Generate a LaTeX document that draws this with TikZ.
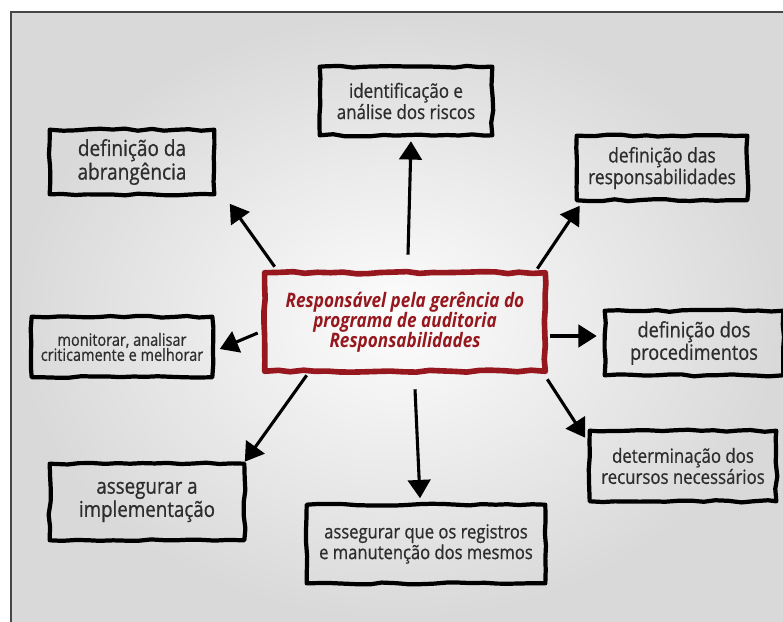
\documentclass[tikz,border=0pt]{standalone}
\usepackage{fontspec}
\setmainfont{Open Sans}[FakeStretch=0.86]
\newfontfamily\topicfont{Open Sans}[FakeStretch=0.86,FakeBold=0.7]
\usetikzlibrary{arrows.meta,calc,decorations.pathmorphing}
\definecolor{boxtext}{RGB}{45,45,45}
\definecolor{mainred}{RGB}{150,24,30}
\definecolor{framegray}{RGB}{70,70,70}
\tikzset{topic/.style={align=center,text=boxtext,inner sep=0pt},
 rough/.style={line width=3pt,line join=round,decorate,decoration={random steps,segment length=9pt,amplitude=.8pt}},
 link/.style={-{Triangle[length=13pt,width=16pt]},line width=2.2pt},
 every node/.style={font=\small}}
\begin{document}
\begin{tikzpicture}[x=0.025cm,y=-0.025cm]
\useasboundingbox (0,0) rectangle (783,622);
\clip (0,0) rectangle (783,622);
\shade[inner color=gray!2,outer color=gray!30] (11,12) rectangle (783,622);
\draw[framegray,line width=1pt] (11,12) rectangle (800,640);
\node[topic,text=mainred,minimum width=7cm,minimum height=2.45cm,
 font=\fontsize{14.2}{14.2}\selectfont\bfseries\itshape] (central) at (405,322)
 {Responsável pela gerência do\\programa de auditoria\\Responsabilidades};
\node[topic,minimum width=4.3cm,minimum height=1.7cm,font=\topicfont\fontsize{14}{13.5}\selectfont] (riscos) at (406,101) {identificação e\\análise dos riscos};
\node[topic,minimum width=4.1cm,minimum height=1.6cm,font=\topicfont\fontsize{15.7}{15.2}\selectfont] (abrang) at (132,162) {definição da\\abrangência};
\node[topic,minimum width=4.25cm,minimum height=1.6cm,font=\topicfont\fontsize{14.4}{13}\selectfont] (respons) at (662,168) {definição das\\responsabilidades};
\node[topic,minimum width=4.5cm,minimum height=1.5cm,font=\topicfont\fontsize{12}{10.7}\selectfont] (monitor) at (122,347) {monitorar, analisar\\criticamente e melhorar};
\node[topic,minimum width=4.45cm,minimum height=1.6cm,font=\topicfont\fontsize{15}{13.2}\selectfont] (proced) at (694,343) {definição dos\\procedimentos};
\node[topic,minimum width=4.65cm,minimum height=1.75cm,font=\topicfont\fontsize{13.9}{12.2}\selectfont] (recursos) at (683,466) {determinação dos\\recursos necessários};
\node[topic,minimum width=4.85cm,minimum height=1.9cm,font=\topicfont\fontsize{15.5}{13}\selectfont] (implem) at (147,502) {assegurar a\\implementação};
\node[topic,minimum width=5.95cm,minimum height=1.95cm,font=\topicfont\fontsize{13.7}{11.6}\selectfont] (registros) at (426,544) {assegurar que os registros\\e manutenção dos mesmos};
\draw[rough,mainred,line width=4pt] (central.north west) rectangle (central.south east);
\foreach \topicname in {riscos,abrang,respons,monitor,proced,recursos,implem,registros}
 \draw[rough] (\topicname.north west) rectangle (\topicname.south east);
\draw[link] ($(central.north)+(3,-18)$) -- ($(riscos.south)+(5,6)$);
\draw[link] ($(central.north west)+(10,-6)$) -- ($(abrang.south east)+(15.5,9.5)$);
\draw[link] ($(central.north east)+(-8,-4)$) -- ($(respons.south west)+(3,5.5)$);
\draw[link] ($(central.west)+(-7,11)$) -- ($(monitor.east)+(7.5,2)$);
\draw[link] ($(central.east)+(5,14)$) -- ($(proced.west)+(-8,-7)$);
\draw[link] ($(central.south east)+(2,8)$) -- ($(recursos.north west)+(-4.5,7)$);
\draw[link] ($(central.south)+(10,18)$) -- ($(registros.north)+(-6,-6.5)$);
\draw[link] ($(central.south west)+(42,4)$) -- ($(implem.north east)+(0.5,-2)$);
\end{tikzpicture}
\end{document}
